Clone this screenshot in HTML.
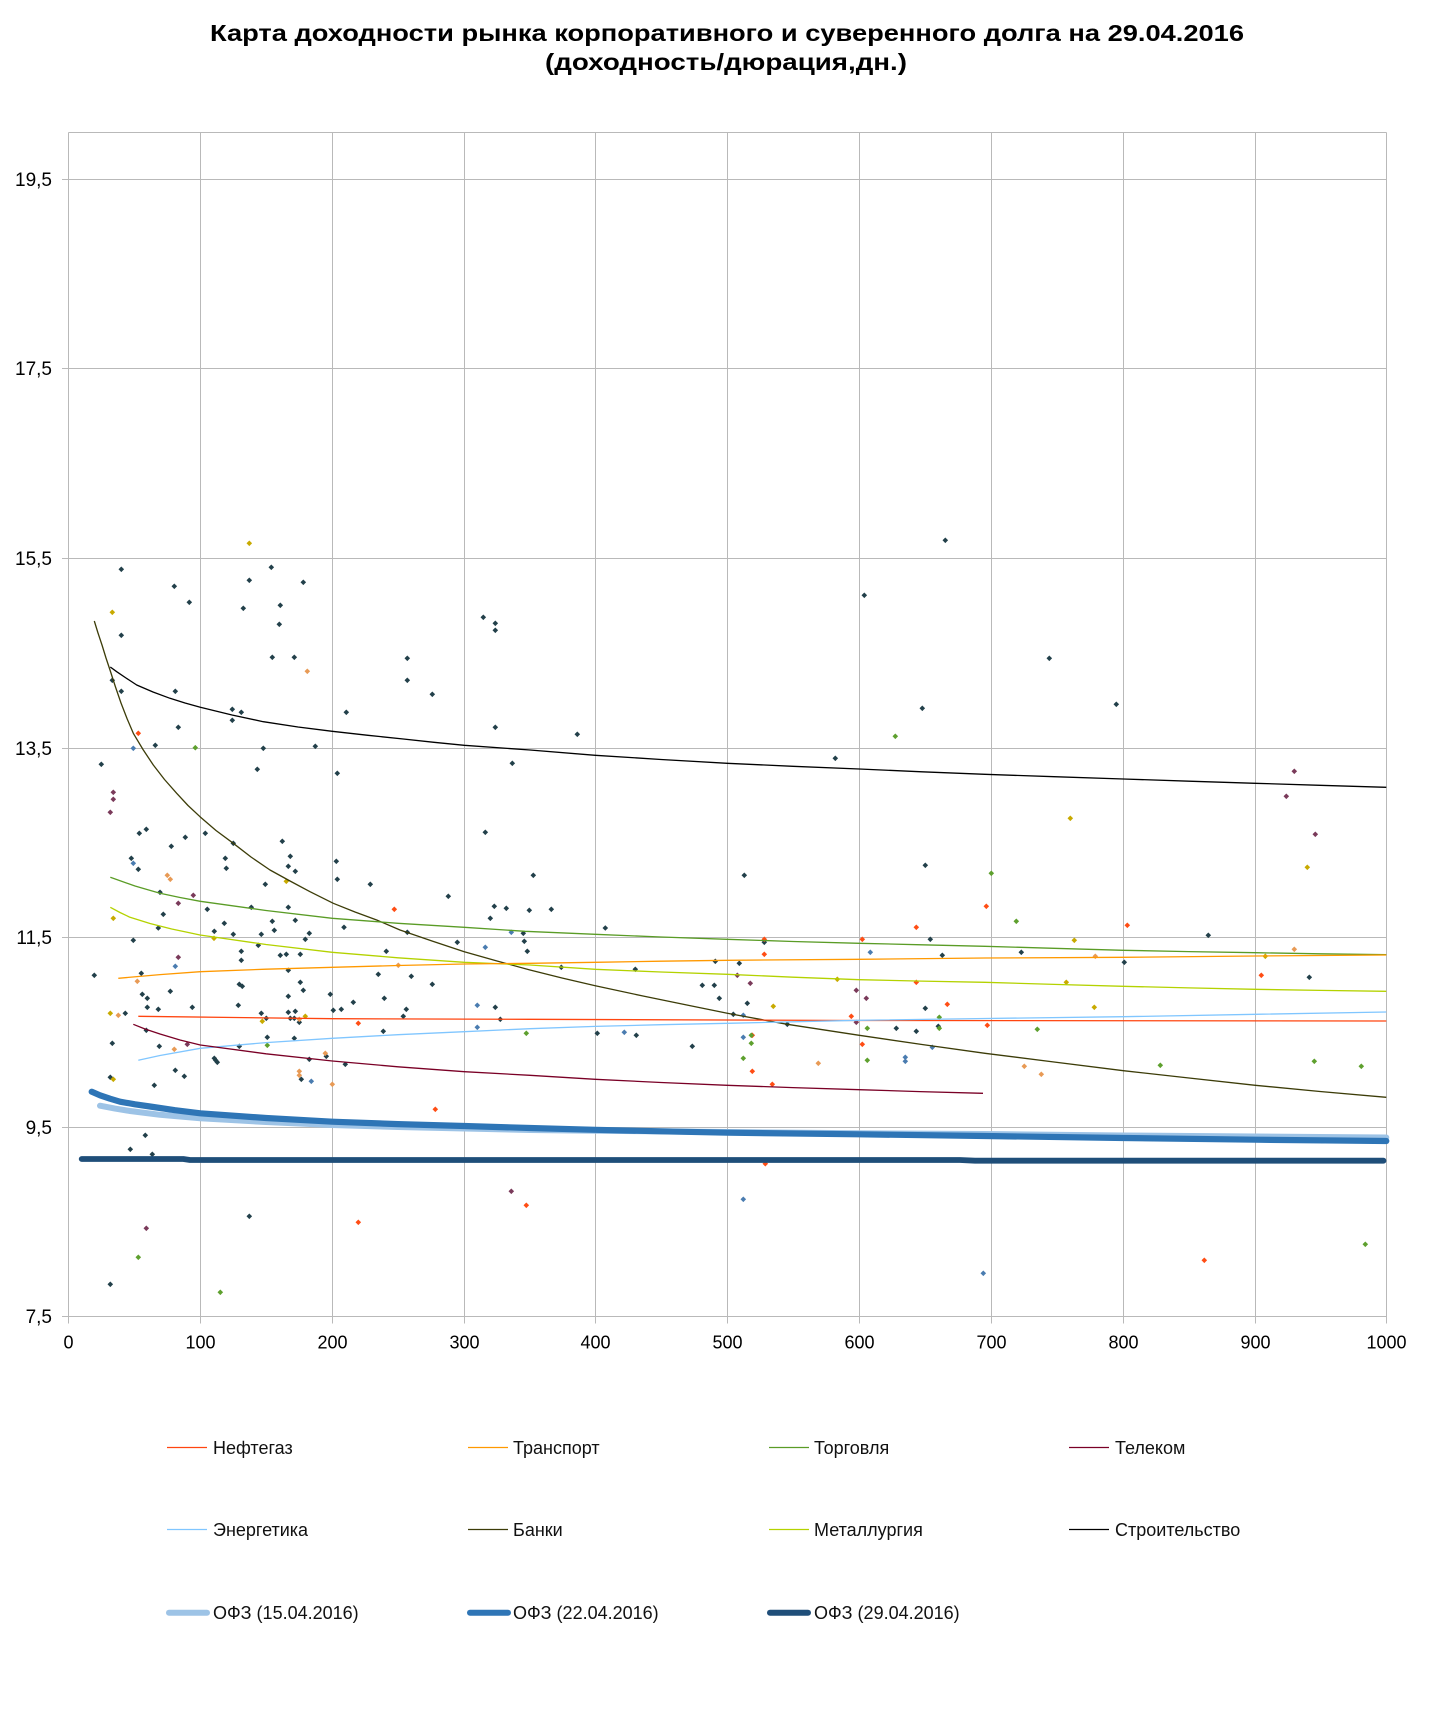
<!DOCTYPE html>
<html>
<head>
<meta charset="utf-8">
<style>
html,body{margin:0;padding:0;background:#fff;}
svg{display:block;}
text{font-family:"Liberation Sans",Arial,sans-serif;}
</style>
</head>
<body>
<svg xmlns="http://www.w3.org/2000/svg" width="1441" height="1720" viewBox="0 0 1441 1720">
<defs>
<marker id="md" markerWidth="7" markerHeight="7" refX="3.5" refY="3.5" markerUnits="userSpaceOnUse" overflow="visible"><path d="M3.5 0.7L6.3 3.5 3.5 6.3 0.7 3.5z" fill="#22404a"/></marker>
<marker id="mr" markerWidth="7" markerHeight="7" refX="3.5" refY="3.5" markerUnits="userSpaceOnUse" overflow="visible"><path d="M3.5 0.7L6.3 3.5 3.5 6.3 0.7 3.5z" fill="#ff4d14"/></marker>
<marker id="mt" markerWidth="7" markerHeight="7" refX="3.5" refY="3.5" markerUnits="userSpaceOnUse" overflow="visible"><path d="M3.5 0.7L6.3 3.5 3.5 6.3 0.7 3.5z" fill="#e89a55"/></marker>
<marker id="mg" markerWidth="7" markerHeight="7" refX="3.5" refY="3.5" markerUnits="userSpaceOnUse" overflow="visible"><path d="M3.5 0.7L6.3 3.5 3.5 6.3 0.7 3.5z" fill="#5ea02e"/></marker>
<marker id="my" markerWidth="7" markerHeight="7" refX="3.5" refY="3.5" markerUnits="userSpaceOnUse" overflow="visible"><path d="M3.5 0.7L6.3 3.5 3.5 6.3 0.7 3.5z" fill="#c8aa00"/></marker>
<marker id="ms" markerWidth="7" markerHeight="7" refX="3.5" refY="3.5" markerUnits="userSpaceOnUse" overflow="visible"><path d="M3.5 0.7L6.3 3.5 3.5 6.3 0.7 3.5z" fill="#4a7cb0"/></marker>
<marker id="mp" markerWidth="7" markerHeight="7" refX="3.5" refY="3.5" markerUnits="userSpaceOnUse" overflow="visible"><path d="M3.5 0.7L6.3 3.5 3.5 6.3 0.7 3.5z" fill="#7a3a5a"/></marker>
</defs>
<rect width="1441" height="1720" fill="#fff"/>

<!-- Title -->
<text x="210" y="41" font-size="23" font-weight="bold" textLength="1034" lengthAdjust="spacingAndGlyphs" fill="#000">Карта доходности рынка корпоративного и суверенного долга на 29.04.2016</text>
<text x="545" y="70" font-size="23" font-weight="bold" textLength="362" lengthAdjust="spacingAndGlyphs" fill="#000">(доходность/дюрация,дн.)</text>

<!-- Grid -->
<g stroke="#b9b9b9" stroke-width="1" fill="none">
<line x1="68.5" y1="132.5" x2="1386.5" y2="132.5"/>
<line x1="62" y1="179.5" x2="1386.5" y2="179.5"/>
<line x1="62" y1="368.5" x2="1386.5" y2="368.5"/>
<line x1="62" y1="558.5" x2="1386.5" y2="558.5"/>
<line x1="62" y1="748.5" x2="1386.5" y2="748.5"/>
<line x1="62" y1="937.5" x2="1386.5" y2="937.5"/>
<line x1="62" y1="1127.5" x2="1386.5" y2="1127.5"/>
<line x1="62" y1="1316.5" x2="1386.5" y2="1316.5"/>
<line x1="68.5" y1="132.5" x2="68.5" y2="1323.5"/>
<line x1="200.5" y1="132.5" x2="200.5" y2="1323.5"/>
<line x1="332.5" y1="132.5" x2="332.5" y2="1323.5"/>
<line x1="464.5" y1="132.5" x2="464.5" y2="1323.5"/>
<line x1="595.5" y1="132.5" x2="595.5" y2="1323.5"/>
<line x1="727.5" y1="132.5" x2="727.5" y2="1323.5"/>
<line x1="859.5" y1="132.5" x2="859.5" y2="1323.5"/>
<line x1="991.5" y1="132.5" x2="991.5" y2="1323.5"/>
<line x1="1123.5" y1="132.5" x2="1123.5" y2="1323.5"/>
<line x1="1255.5" y1="132.5" x2="1255.5" y2="1323.5"/>
<line x1="1386.5" y1="132.5" x2="1386.5" y2="1323.5"/>
</g>

<!-- Y labels -->
<g font-size="19" fill="#000" text-anchor="end">
<text x="52" y="186">19,5</text>
<text x="52" y="375">17,5</text>
<text x="52" y="565">15,5</text>
<text x="52" y="755">13,5</text>
<text x="52" y="944">11,5</text>
<text x="52" y="1134">9,5</text>
<text x="52" y="1323">7,5</text>
</g>
<!-- X labels -->
<g font-size="18" fill="#000" text-anchor="middle">
<text x="68.5" y="1348.5">0</text>
<text x="200.5" y="1348.5">100</text>
<text x="332.5" y="1348.5">200</text>
<text x="464.5" y="1348.5">300</text>
<text x="595.5" y="1348.5">400</text>
<text x="727.5" y="1348.5">500</text>
<text x="859.5" y="1348.5">600</text>
<text x="991.5" y="1348.5">700</text>
<text x="1123.5" y="1348.5">800</text>
<text x="1255.5" y="1348.5">900</text>
<text x="1386.5" y="1348.5">1000</text>
</g>

<!-- Scatter points -->
<g fill="none" stroke="none">
<polyline marker-start="url(#md)" marker-mid="url(#md)" marker-end="url(#md)" points="121.3,569.3 271.3,567.3 174.3,586.3 249.3,580.3 303.3,582.3 189.3,602.3 243.3,608.3 280.3,605.3 279.3,624.3 483.3,617.3 495.3,623.3 495.3,630.3 121.3,635.3 272.3,657.3 294.3,657.3 407.3,658.3 407.3,680.3 432.3,694.3 112.3,680.3 121.3,691.3 175.3,691.3 232.3,709.3 241.3,712.3 232.3,720.3 346.3,712.3 178.3,727.3 495.3,727.3 155.3,745.3 263.3,748.3 315.3,746.3 101.3,764.3 512.3,763.3 257.3,769.3 337.3,773.3 139.3,833.3 146.3,829.3 185.3,837.3 205.3,833.3 171.3,846.3 233.3,843.3 282.3,841.3 485.3,832.3 131.3,858.3 138.3,869.3 225.3,858.3 226.3,868.3 290.3,856.3 288.3,866.3 295.3,871.3 336.3,861.3 337.3,879.3 265.3,884.3 370.3,884.3 160,892.3 448.3,896.3 163.3,914.3 207.3,909.3 251.3,907.3 288.3,907.3 494.3,906.3 506.3,908.3 490.3,918.3 529.3,910.3 272.3,921.3 295.3,920.3 224.3,923.3 158.3,928 344,927.3 133.3,940.3 214.3,931.3 233.3,934.3 261.3,934.3 274.3,930.3 309.3,933.3 305.3,939.3 258.3,945.3 407.3,932.3 523.3,933.3 457.3,942.3 524.3,941.3 527.3,951.3 386.3,951.3 241.3,951.3 241.3,960.3 280.3,955.3 286.3,954.3 300.3,954.3 94.3,975.3 141.3,973.3 288.3,970.3 378.3,974.3 411.3,976.3 432.3,984.3 300.3,982.3 239.3,984.3 242.3,986.3 303.3,990.3 170.3,991.3 142.3,994.3 147.3,998.3 288.3,996.3 330.3,994.3 384.3,998.3 353.3,1002.3 238.3,1005.3 147.3,1007.3 158.3,1009.3 192.3,1007.3 495.3,1007.3 406.3,1009.3 333.3,1010.3 341.3,1009.3 125.3,1013.3 261.3,1013.3 288.3,1012.3 295.3,1011.3 266.3,1018.3 290.3,1018.3 294.3,1018.3 299.3,1022.3 403.3,1016.3 500.3,1019.3 146.3,1030.3 383.3,1031.3 267.3,1037.3 294.3,1038.3 112.3,1043.3 159.3,1046.3 239.3,1046.3 214.3,1058.3 215.7,1060.3 217.3,1062.3 326.3,1056.3 309.3,1059.3 345.3,1064.3 175.3,1070.3 184.3,1076.3 110.3,1077.3 301.3,1079.3 154.3,1085.3 145.3,1135.3 130.3,1149.3 152.3,1154.3 249.3,1216.3 110.3,1284.3 945.3,540.3 864.3,595.3 922.3,708.3 577.3,734.3 835.3,758.3 533.3,875.3 744.3,875.3 925.3,865.3 551.3,909.3 605.3,928 561.3,967.3 635.3,969.3 715.3,961.3 739.3,963.3 764.3,942.3 702.3,985.3 714.3,985.3 719.3,998.3 747.3,1003.3 733.3,1014.3 787.3,1024.3 597.3,1033.3 636.3,1035.3 692.3,1046.3 930.3,939.3 942.3,955.3 925.3,1008.3 896.3,1028.3 916.3,1031.3 938.3,1026.3 1049.3,658.3 1116.3,704.3 1208.3,935.3 1021.3,952.3 1124.3,962.3 1309.3,977.3"/>
<polyline marker-start="url(#mr)" marker-mid="url(#mr)" marker-end="url(#mr)" points="138.3,733.3 394.3,909.3 358.3,1023.3 435.3,1109.3 358.3,1222.3 526.3,1205.3 916.3,927.3 764.3,939.3 764.3,954.3 752.3,1035.3 752.3,1071.3 772.3,1084.3 862.3,939.3 916.3,982.3 947.3,1004.3 851.3,1016.3 862.3,1044.3 765.3,1163.7 986.3,906.3 1127.3,925.3 1261.3,975.3 987.3,1025.3 1204.3,1260.3"/>
<polyline marker-start="url(#mt)" marker-mid="url(#mt)" marker-end="url(#mt)" points="307.3,671.3 167.3,875.3 170.3,879.3 137.3,981.3 398.3,965.3 118.3,1015.3 299.3,1019.3 174.3,1049.3 325.3,1053.3 299.3,1071.3 299.3,1075.3 332.3,1084.3 818.3,1063.3 1095.3,956.3 1294.3,949.3 1024.3,1066.3 1041.3,1074.3"/>
<polyline marker-start="url(#mg)" marker-mid="url(#mg)" marker-end="url(#mg)" points="195.3,747.7 526.3,1033.3 267.3,1045.3 138.3,1257.3 220.3,1292.3 895.3,736.3 751.3,1035.3 751.3,1043.3 743.3,1058.3 939.3,1017.3 867.3,1028.3 939.3,1028.3 867.3,1060.3 991.3,873.3 1016.3,921.3 1037.3,1029.3 1160.3,1065.3 1314.3,1061.3 1361.3,1066.3 1365.3,1244.3"/>
<polyline marker-start="url(#my)" marker-mid="url(#my)" marker-end="url(#my)" points="249.3,543.3 112.3,612.3 286.3,881.3 113.3,918.3 214,938.3 110.3,1013.3 305.3,1016.3 262.3,1021.3 113.3,1079.3 773.3,1006.3 837.3,979.3 1070.3,818.3 1307.3,867.3 1074.3,940.3 1265.3,956.3 1066.3,982.3 1094.3,1007.3"/>
<polyline marker-start="url(#ms)" marker-mid="url(#ms)" marker-end="url(#ms)" points="133.3,748.3 133.3,863.3 511.3,932.3 485.3,947.3 175.3,966.3 477.3,1005.3 477.3,1027.3 311.3,1081.3 743.3,1015.3 624.3,1032.3 743.3,1037.3 870.3,952.3 932.3,1047.3 905.3,1057.3 905.3,1061.3 743.3,1199.3 983.3,1273.3"/>
<polyline marker-start="url(#mp)" marker-mid="url(#mp)" marker-end="url(#mp)" points="113.3,792.3 113.3,799.3 110.3,812.3 193.3,895.3 178.3,903.3 178.3,957.3 187.3,1044.3 511.3,1191.3 146.3,1228.3 737.3,975.3 750.3,983.3 856.3,990.3 866.3,998.3 856.3,1022.3 1294.3,771.3 1286.3,796.3 1315.3,834.3"/>
</g>

<!-- Trend lines -->
<g fill="none" stroke-width="1.3" stroke-linejoin="round">
<polyline stroke="#3c3c08" points="94.3,621 98,633 102,645 106,658 110,670 115.5,687 121,703 127,718.5 133.3,733.3 143,749.5 153.3,765 164.5,779.5 176.7,793.3 188,805.5 200,816.7 216,830.5 233.3,843.3 251,857 270,870 290,881 310,891.7 333.3,903.3 355,912 376.7,920 400,930 432,941 464.3,951.7 497,961 530,970 562,978 595.3,985.7 643,996 691.7,1006 727.3,1013.3 787.3,1024.3 859.3,1035.3 922,1044.5 985,1053.3 1054,1062 1123.3,1070.7 1189,1078 1255.3,1085.3 1320,1091.5 1386.3,1097.3"/>
<polyline stroke="#000" points="110.3,667 116.7,671.7 126,678 136.7,685 153,692 170,698.3 185,703 200.3,707.3 232,715 263.3,721.7 298,727 332.3,731.3 368,735.3 403.3,739 434,742.3 464.3,745.3 530,750 595.3,755.3 661,759.5 727.3,763.3 793,766.3 859.3,769 922,771.8 985,774.3 1054,776.7 1123.3,779 1189,781.2 1255.3,783.3 1320,785.3 1386.3,787.3"/>
<polyline stroke="#5a9c26" points="110.3,877.3 135,886 160,893.3 180,897.5 200.3,901.3 266,910.5 332.3,918.3 398,923.3 464.3,927.3 525,931.3 595.3,934.3 661,937 727.3,939.3 793,941.5 859.3,943.3 922,944.8 985,946.3 1054,948.3 1123.3,950.3 1189,951.6 1255.3,952.7 1320,953.8 1386.3,954.7"/>
<polyline stroke="#b4d200" points="110.3,907.3 120,912.5 130,917.3 150,923.5 171.7,929 186,932 200,935 266,944.5 332.3,952.3 398,957.8 464.3,962.3 530,965 595.3,969.3 661,972 727.3,974.3 793,977.2 859.3,979.7 922,981.1 985,982.3 1054,984.4 1123.3,986.3 1189,987.9 1255.3,989.3 1320,990.4 1386.3,991.3"/>
<polyline stroke="#ff9900" points="118.3,978.3 160,974.6 200.3,971.7 266,969.2 332.3,967.3 398,965.5 464.3,964 530,963.3 595.3,962.3 661,961.2 727.3,960.3 859.3,959.3 985,958 1123.3,957.3 1255.3,956 1386.3,955"/>
<polyline stroke="#ff4510" points="138.3,1016.3 332.3,1018.7 530,1019.3 859.3,1020.5 1386.3,1021"/>
<polyline stroke="#80c6ff" points="138.3,1060.3 160,1055.5 200.3,1048.3 266,1042.6 332.3,1038.3 398,1034.7 464.3,1031.7 530,1028.7 595.3,1026.4 661,1024.7 727.3,1023.3 859.3,1020.3 985,1018.5 1123.3,1016.7 1255.3,1014.3 1386.3,1012"/>
<polyline stroke="#7a0026" points="133.3,1024.3 145,1029 160,1034 180,1040 200.3,1045 266,1053.8 332.3,1061 398,1066.8 464.3,1071.7 530,1075.3 595.3,1079.3 661,1082.5 727.3,1085.3 793,1087.6 859.3,1089.7 920,1091.6 983,1093.3"/>
</g>

<!-- OFZ curves -->
<g fill="none" stroke-linejoin="round">
<polyline stroke="#9dc3e6" stroke-width="6" stroke-linecap="round" points="100,1105.7 115,1108.6 130,1111 160,1114.8 200.3,1118.3 266,1122 332.3,1125 398,1127 464.3,1128.5 530,1130 595.3,1130.8 661,1131.4 727.3,1132 859.3,1133.3 985,1134 1123.3,1135.5 1255.3,1136.5 1386.3,1137.5"/>
<polyline stroke="#2e75b6" stroke-width="6.2" stroke-linecap="round" points="91.7,1091.7 100,1095.3 110,1098.7 120,1101.7 135,1104.3 150,1106.5 175,1110.2 200.3,1113.3 266,1118 332.3,1121.7 398,1124.1 464.3,1126 530,1128 595.3,1129.8 661,1131.3 727.3,1132.7 859.3,1134.3 985,1136 1123.3,1138 1255.3,1139.7 1386.3,1141"/>
<polyline stroke="#1f4e79" stroke-width="5.8" stroke-linecap="round" points="81.7,1159 183.3,1159 190,1160 960,1160 975,1160.7 1383.5,1160.7"/>
</g>

<!-- Legend -->
<g stroke-width="1.3">
<line x1="167" y1="1447.5" x2="207" y2="1447.5" stroke="#ff4510"/>
<line x1="468" y1="1447.5" x2="508" y2="1447.5" stroke="#ff9900"/>
<line x1="769" y1="1447.5" x2="809" y2="1447.5" stroke="#5a9c26"/>
<line x1="1069" y1="1447.5" x2="1109" y2="1447.5" stroke="#7a0026"/>
<line x1="167" y1="1529.5" x2="207" y2="1529.5" stroke="#80c6ff"/>
<line x1="468" y1="1529.5" x2="508" y2="1529.5" stroke="#3c3c08"/>
<line x1="769" y1="1529.5" x2="809" y2="1529.5" stroke="#b4d200"/>
<line x1="1069" y1="1529.5" x2="1109" y2="1529.5" stroke="#000"/>
</g>
<g stroke-width="6" stroke-linecap="round">
<line x1="169" y1="1612.7" x2="207" y2="1612.7" stroke="#9dc3e6"/>
<line x1="470" y1="1612.7" x2="508" y2="1612.7" stroke="#2e75b6"/>
<line x1="770" y1="1612.7" x2="808" y2="1612.7" stroke="#1f4e79"/>
</g>
<g font-size="18" fill="#111">
<text x="213" y="1453.8">Нефтегаз</text>
<text x="513" y="1453.8">Транспорт</text>
<text x="814" y="1453.8">Торговля</text>
<text x="1115" y="1453.8">Телеком</text>
<text x="213" y="1535.8">Энергетика</text>
<text x="513" y="1535.8">Банки</text>
<text x="814" y="1535.8">Металлургия</text>
<text x="1115" y="1535.8">Строительство</text>
<text x="213" y="1619">ОФЗ (15.04.2016)</text>
<text x="513" y="1619">ОФЗ (22.04.2016)</text>
<text x="814" y="1619">ОФЗ (29.04.2016)</text>
</g>
</svg>
</body>
</html>
